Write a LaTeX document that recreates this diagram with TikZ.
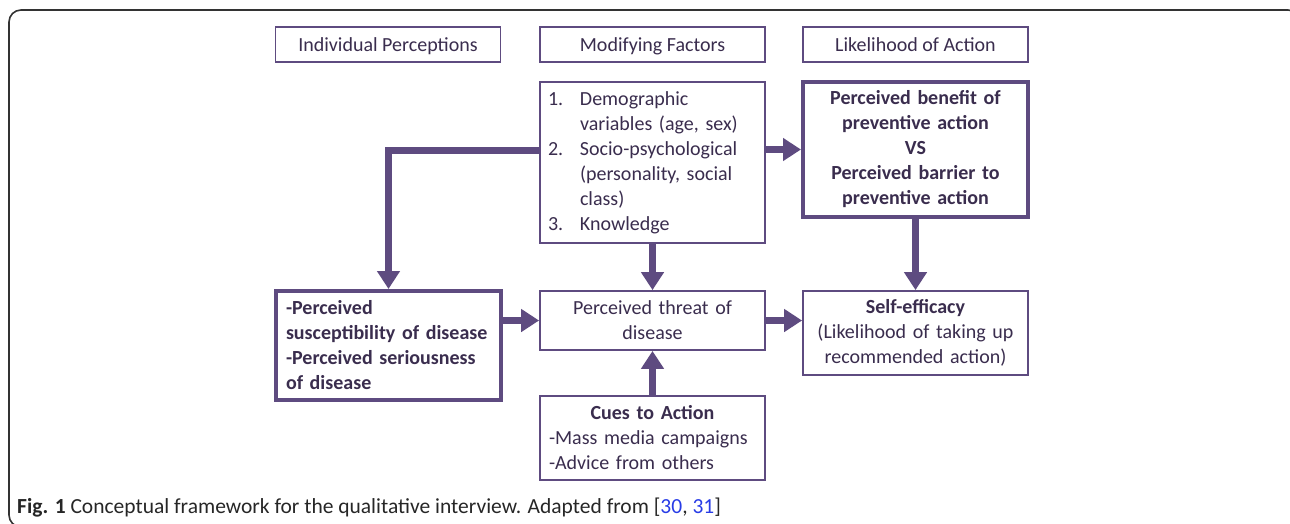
\documentclass[tikz,border=0pt]{standalone}
\usepackage{fontspec}
\setmainfont{Carlito}
\usetikzlibrary{arrows.meta}
\definecolor{hbmpurple}{RGB}{94,75,128}
\definecolor{hbmtext}{RGB}{58,45,78}
\definecolor{linkblue}{RGB}{40,60,230}
\newcommand{\numlabel}[1]{\makebox[32pt][l]{#1}}
\tikzset{
  box/.style={draw=hbmpurple, line width=1.8pt, fill=white, text=hbmtext,
    font=\fontsize{20}{25}\selectfont, inner sep=0pt, minimum width=225pt},
  thickbox/.style={box, line width=4pt},
  headbox/.style={box, minimum height=35pt, text depth=0pt},
  flow/.style={draw=hbmpurple, line width=7pt, -{Triangle[width=22pt,length=18pt]}}
}
\begin{document}
\begin{tikzpicture}[x=1pt,y=-1pt]
  \useasboundingbox (0,0) rectangle (1290,523);
  \clip (0,0) rectangle (1290,523);
  % outer frame
  \draw[black!80, line width=1.6pt, rounded corners=12pt] (9,10) rectangle (1300,527);

  % column headings
  \node[headbox] (indiv) at (388,44.5) {Individual Perceptions};
  \node[headbox] (modhead) at (652.5,44.5) {Modifying Factors};
  \node[headbox] (likehead) at (915.5,44.5) {Likelihood of Action};

  % main boxes
  \node[box, minimum height=161pt, text width=209pt, align=left] (modif) at (652.5,162.5)
    {\numlabel{1.}Demographic\\ \numlabel{}variables (age, sex)\\
     \numlabel{2.}Socio-psychological\\ \numlabel{}(personality, social\\
     \numlabel{}class)\\ \numlabel{3.}Knowledge};
  \node[thickbox, minimum height=135pt, text width=209pt, align=center,
    font=\fontsize{20}{25}\selectfont\bfseries] (benefit) at (915.5,149.5)
    {Perceived benefit of\\ preventive action\\ VS\\ Perceived barrier to\\ preventive action};
  \node[thickbox, minimum height=109pt, text width=205pt, align=left,
    font=\fontsize{20}{25}\selectfont\bfseries] (suscept) at (388.5,345.5)
    {-Perceived\\ susceptibility of disease\\ -Perceived seriousness\\ of disease};
  \node[box, minimum height=59pt, text width=209pt, align=center] (threat) at (652.5,320.5)
    {Perceived threat of\\ disease};
  \node[box, minimum height=84pt, text width=215pt, align=center] (selfeff) at (915.5,333)
    {\textbf{Self-efficacy}\\ (Likelihood of taking up\\ recommended action)};
  \node[box, minimum height=84pt, text width=207pt, align=left] (cues) at (652.5,438)
    {{\centering\bfseries Cues to Action\par}-Mass media campaigns\\ -Advice from others};

  % connectors
  \coordinate (bend) at (390,150);
  \draw[flow] (modif.west |- bend) -| (suscept.north);
  \draw[flow] (modif.east |- benefit.west) -- (benefit.west);
  \draw[flow] (modif.south) -- (threat.north);
  \draw[flow] (benefit.south) -- (selfeff.north);
  \draw[flow] (suscept.east |- threat.west) -- (threat.west);
  \draw[flow] (threat.east) -- (threat.east -| selfeff.west);
  \draw[flow] (cues.north) -- (threat.south);

  % caption
  \node[anchor=base west, inner sep=0pt, text=black!85, font=\fontsize{21.5}{24}\selectfont]
    (caption) at (17,513)
    {\textbf{Fig. 1} Conceptual framework for the qualitative interview. Adapted from
     [\textcolor{linkblue}{30}, \textcolor{linkblue}{31}]};
\end{tikzpicture}
\end{document}
